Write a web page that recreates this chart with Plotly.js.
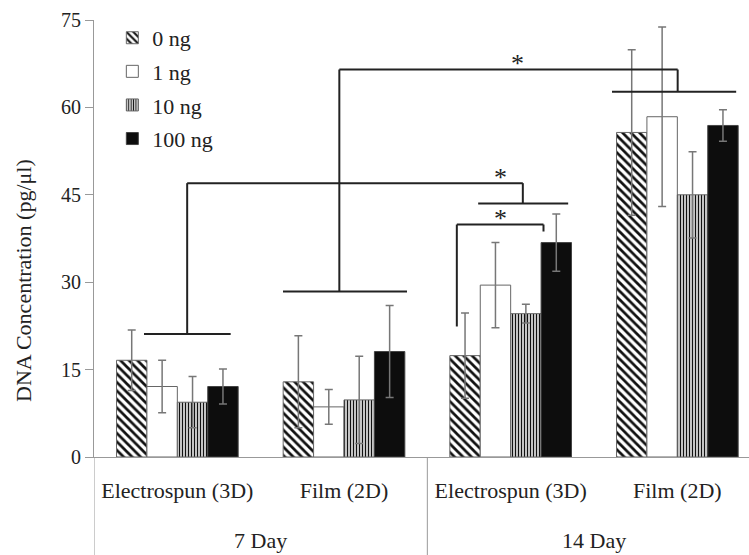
<!DOCTYPE html>
<html>
<head>
<meta charset="utf-8">
<script src="https://cdn.plot.ly/plotly-3.0.1.min.js"></script>
<style>html,body{margin:0;padding:0;background:#fff}#chart{width:749px;height:555px}</style>
</head>
<body>
<div id="chart"></div>
<script>
// ---- data ----
const dayLabels = ["7 Day", "7 Day", "14 Day", "14 Day"];
const scaffoldLabels = ["Electrospun (3D)", "Film (2D)", "Electrospun (3D)", "Film (2D)"];
const seriesNames = ["0 ng", "1 ng", "10 ng", "100 ng"];
const ng0 = [16.6, 12.9, 17.4, 55.7];
const ng0Err = [5.2, 7.9, 7.3, 14.2];
const ng1 = [12.1, 8.6, 29.5, 58.4];
const ng1Err = [4.5, 3.0, 7.3, 15.4];
const ng10 = [9.4, 9.8, 24.6, 45.0];
const ng10Err = [4.4, 7.5, 1.6, 7.4];
const ng100 = [12.1, 18.1, 36.8, 56.9];
const ng100Err = [3.0, 7.9, 4.9, 2.7];
const yTicks = [0, 15, 30, 45, 60, 75];
const yTitle = "DNA Concentration (pg/μl)";
// significance brackets: polylines in data units [x, y] (x = category index)
const brackets = [
  [[-0.2, 21.1], [0.32, 21.1]],
  [[0.059, 21.1], [0.059, 47.0], [2.073, 47.0], [2.073, 43.5]],
  [[1.805, 43.5], [2.345, 43.5]],
  [[0.634, 28.4], [1.378, 28.4]],
  [[0.972, 28.4], [0.972, 66.5], [3.002, 66.5], [3.002, 62.7]],
  [[2.608, 62.7], [3.353, 62.7]],
  [[1.677, 22.4], [1.677, 39.9], [2.197, 39.9], [2.197, 38.7]]
];
const stars = [[1.937, 47.0], [2.04, 66.5], [1.937, 39.9]];

// ---- chart ----
const FONT = "Liberation Serif, Times New Roman, serif";
const idx = scaffoldLabels.map((_, i) => i);
const values = [ng0, ng1, ng10, ng100];
const errs = [ng0Err, ng1Err, ng10Err, ng100Err];
const markers = [
  {color: "#fff", pattern: {shape: "\\", fgcolor: "#111", bgcolor: "#fff", size: 6, solidity: 0.45}, line: {color: "#666", width: 1}},
  {color: "#fff", line: {color: "#666", width: 1}},
  {color: "#fff", pattern: {shape: "|", fgcolor: "#111", bgcolor: "#fff", size: 3, solidity: 0.5}, line: {color: "#666", width: 1}},
  {color: "#0d0d0d", line: {color: "#444", width: 1}}
];
const traces = seriesNames.map((n, i) => ({
  type: "bar",
  name: n,
  legendgroup: "g" + i,
  x: idx,
  y: values[i],
  marker: markers[i],
  error_y: {type: "data", array: errs[i], visible: true, color: "#777", thickness: 1.5, width: 4}
}));

const shapes = [];
brackets.forEach(b => {
  for (let k = 0; k < b.length - 1; k++) {
    shapes.push({type: "line", xref: "x", yref: "y", x0: b[k][0], y0: b[k][1], x1: b[k+1][0], y1: b[k+1][1],
      line: {color: "#222", width: 2}});
  }
});
// day group dividers and labels
const dividerX = [-0.5];
const dayGroups = [];
dayLabels.forEach((d, i) => {
  if (i > 0 && d !== dayLabels[i - 1]) dividerX.push(i - 0.5);
  let g = dayGroups.find(q => q.name === d);
  if (!g) { g = {name: d, idx: []}; dayGroups.push(g); }
  g.idx.push(i);
});
dividerX.push(dayLabels.length - 0.5);
dividerX.forEach(x => shapes.push({type: "line", xref: "x", yref: "paper", x0: x, x1: x, y0: 0, y1: -0.23,
  line: {color: "#999", width: 1}}));

const annotations = stars.map(s => ({
  x: s[0], y: s[1], xref: "x", yref: "y", text: "*", showarrow: false,
  yanchor: "middle", yshift: 6, font: {family: FONT, size: 26, color: "#222"}
}));
dayGroups.forEach(g => annotations.push({
  x: g.idx.reduce((a, b) => a + b, 0) / g.idx.length, y: -0.19, xref: "x", yref: "paper",
  text: g.name, showarrow: false, yanchor: "middle", font: {family: FONT, size: 22, color: "#222"}
}));
annotations.push({x: 23, y: 281, xref: "paper", yref: "paper", text: yTitle, textangle: -90,
  showarrow: false, xanchor: "center", yanchor: "middle", font: {family: FONT, size: 22, color: "#222"}});

const layout = {
  width: 749, height: 555,
  margin: {l: 94, r: 0, t: 20, b: 98},
  paper_bgcolor: "#fff", plot_bgcolor: "#fff",
  font: {family: FONT, color: "#222", size: 20},
  barmode: "group", bargap: 0.27, bargroupgap: 0,
  showlegend: true,
  legend: {x: 0.028, y: 1.007, xanchor: "left", yanchor: "top", bgcolor: "rgba(0,0,0,0)",
    font: {size: 22}, traceorder: "grouped", tracegroupgap: 2},
  xaxis: {range: [-0.5, 3.43], showline: true, linecolor: "#999", linewidth: 1,
    tickvals: idx, ticktext: scaffoldLabels, ticks: "", ticklabelstandoff: 14,
    tickfont: {size: 22}, showgrid: false, zeroline: false},
  yaxis: {range: [0, 75], tickvals: yTicks, showline: true, linecolor: "#999", linewidth: 1,
    ticks: "outside", ticklen: 8, tickcolor: "#999", showgrid: false, zeroline: false,
    tickfont: {size: 20}},
  shapes: shapes,
  annotations: annotations
};
// y title placed in pixel terms converted to paper coordinates
const plotW = layout.width - layout.margin.l - layout.margin.r;
const plotH = layout.height - layout.margin.t - layout.margin.b;
const t = annotations[annotations.length - 1];
t.x = (t.x - layout.margin.l) / plotW;
t.y = 1 - (t.y - layout.margin.t) / plotH;
Plotly.newPlot("chart", traces, layout, {displayModeBar: false, staticPlot: true});
</script>
</body>
</html>
